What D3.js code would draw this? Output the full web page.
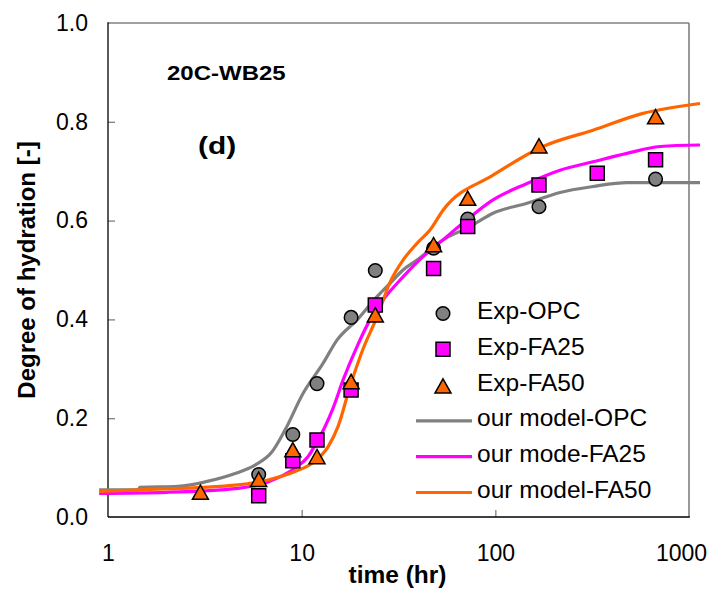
<!DOCTYPE html>
<html><head><meta charset="utf-8">
<script src="https://cdn.jsdelivr.net/npm/d3@7"></script>
<style>
body{margin:0;background:#fff;}
svg text{font-family:Arial,"Liberation Sans",sans-serif;fill:#000;}
</style>
</head><body>
<svg id="chart" width="721" height="616"></svg>
<script>
// ---- data ----
const xTicks = [1, 10, 100, 1000];
const yTicks = [0, 0.2, 0.4, 0.6, 0.8, 1.0];

const expOPC_t  = [6, 9, 12, 18, 24, 48, 72, 168, 672];
const expOPC_v  = [0.086, 0.167, 0.270, 0.404, 0.499, 0.544, 0.603, 0.628, 0.684];
const expFA25_t = [6, 9, 12, 18, 24, 48, 72, 168, 336, 672];
const expFA25_v = [0.043, 0.114, 0.156, 0.257, 0.429, 0.503, 0.588, 0.672, 0.696, 0.723];
const expFA50_t = [3, 6, 9, 12, 18, 24, 48, 72, 168, 672];
const expFA50_v = [0.050, 0.076, 0.136, 0.122, 0.274, 0.409, 0.551, 0.645, 0.751, 0.810];

const modOPC_t  = [0.9, 1.43, 1.46, 2.3, 3.17, 4.53, 5.74, 7.03, 8.2, 10.16, 12.89, 15.22, 19.31, 24.49, 28.58, 33.37, 39.4, 53.69, 73.99, 97.25, 145.7, 215.8, 319.3, 478.4, 1140];
const modOPC_v  = [0.055, 0.055, 0.060, 0.062, 0.071, 0.088, 0.105, 0.132, 0.176, 0.250, 0.311, 0.358, 0.399, 0.446, 0.473, 0.500, 0.520, 0.561, 0.588, 0.615, 0.635, 0.657, 0.669, 0.677, 0.677];
const modFA25_t = [0.9, 2.0, 4.69, 6.70, 9.24, 10.78, 12.14, 13.2, 14.51, 16.35, 19.31, 22.53, 26.3, 33.37, 42.31, 53.69, 68.08, 97.25, 145.7, 215.8, 319.3, 478.4, 708.6, 1140];
const modFA25_v = [0.048, 0.050, 0.058, 0.071, 0.099, 0.122, 0.156, 0.183, 0.220, 0.277, 0.345, 0.399, 0.439, 0.486, 0.527, 0.561, 0.595, 0.642, 0.675, 0.702, 0.719, 0.736, 0.750, 0.753];
const modFA50_t = [0.9, 1.46, 4.69, 6.70, 9.24, 11.31, 13.68, 15.40, 17.77, 20.74, 24.49, 28.58, 33.37, 39.4, 45.98, 53.69, 97.25, 176.3, 319.3, 578.6, 1140];
const modFA50_v = [0.052, 0.055, 0.065, 0.075, 0.092, 0.109, 0.142, 0.183, 0.264, 0.340, 0.405, 0.475, 0.520, 0.554, 0.581, 0.621, 0.692, 0.750, 0.783, 0.817, 0.837];

const legendLabels = ["Exp-OPC", "Exp-FA25", "Exp-FA50", "our model-OPC", "our mode-FA25", "our model-FA50"];

// ---- styles ----
const cGray = "#808080", cMag = "#FF00FF", cOrg = "#FF6600";

const svg = d3.select("#chart");
const x = d3.scaleLog().domain([1, 1000]).range([108, 689]);
const y = d3.scaleLinear().domain([0, 1]).range([517, 23]);

// axes
const gy = svg.append("g").attr("transform", "translate(108,0)")
  .call(d3.axisLeft(y).tickValues(yTicks).tickFormat(d3.format(".1f")).tickSize(-7).tickSizeOuter(0).tickPadding(20));
gy.select(".domain").remove();
gy.selectAll(".tick line").attr("stroke", cGray).attr("stroke-width", 1.3)
  .filter(d => d === 0 || d === 1).remove();
gy.selectAll(".tick text").attr("font-size", 23).attr("font-family", "Arial, 'Liberation Sans', sans-serif").attr("fill", "#000");

const gx = svg.append("g").attr("transform", "translate(0,517)")
  .call(d3.axisBottom(x).tickValues(xTicks).tickFormat(d3.format("d")).tickSize(-7).tickSizeOuter(0).tickPadding(28));
gx.select(".domain").remove();
gx.selectAll(".tick line").attr("stroke", cGray).attr("stroke-width", 1.3)
  .filter(d => d === 1 || d === 1000).remove();
gx.selectAll(".tick text").attr("font-size", 23).attr("font-family", "Arial, 'Liberation Sans', sans-serif").attr("fill", "#000")
  .filter(d => d === 1000).attr("dx", -8);

// frame
const [x0, x1] = x.range(), [yb, yt] = y.range();
svg.append("line").attr("x1", x0).attr("x2", x1).attr("y1", yt).attr("y2", yt).attr("stroke", cGray).attr("stroke-width", 1.6);
svg.append("line").attr("x1", x1).attr("x2", x1).attr("y1", yt).attr("y2", yb).attr("stroke", cGray).attr("stroke-width", 1.6);
svg.append("line").attr("x1", x0).attr("x2", x0).attr("y1", yt - 0.8).attr("y2", yb).attr("stroke", "#000").attr("stroke-width", 1.3);
svg.append("line").attr("x1", x0).attr("x2", x1 + 0.8).attr("y1", yb).attr("y2", yb).attr("stroke", "#000").attr("stroke-width", 1.3);

// model lines
const line = d3.line().x(d => x(d[0])).y(d => y(d[1])).curve(d3.curveMonotoneX);
const models = [
  {t: modOPC_t, v: modOPC_v, c: cGray},
  {t: modFA25_t, v: modFA25_v, c: cMag},
  {t: modFA50_t, v: modFA50_v, c: cOrg}
];
models.forEach(m => {
  svg.append("path").datum(m.t.map((t, i) => [t, m.v[i]]))
    .attr("d", line).attr("fill", "none").attr("stroke", m.c).attr("stroke-width", 3.2);
});

// markers
const triPath = "M0,-7.3L8,7L-8,7Z";
const sqPath = "M-7,-7H7V7H-7Z";
function drawCircle(g, cx, cy) {
  g.append("circle").attr("cx", cx).attr("cy", cy).attr("r", 6.8).attr("fill", cGray).attr("stroke", "#000").attr("stroke-width", 1.5);
}
function drawSquare(g, cx, cy) {
  g.append("path").attr("d", sqPath).attr("transform", `translate(${cx},${cy})`).attr("fill", cMag).attr("stroke", "#000").attr("stroke-width", 1.5);
}
function drawTri(g, cx, cy) {
  g.append("path").attr("d", triPath).attr("transform", `translate(${cx},${cy})`).attr("fill", cOrg).attr("stroke", "#000").attr("stroke-width", 1.5);
}
const gm = svg.append("g");
expOPC_t.forEach((t, i) => drawCircle(gm, x(t), y(expOPC_v[i])));
expFA25_t.forEach((t, i) => drawSquare(gm, x(t), y(expFA25_v[i])));
expFA50_t.forEach((t, i) => drawTri(gm, x(t), y(expFA50_v[i])));

// legend
const lg = svg.append("g");
const lx = 443, ly0 = 313.5, ldy = 35.8;
legendLabels.forEach((lab, i) => {
  const cy = ly0 + i * ldy;
  if (i === 0) drawCircle(lg, lx, cy);
  else if (i === 1) drawSquare(lg, lx, cy);
  else if (i === 2) drawTri(lg, lx, cy + 1);
  else {
    lg.append("line").attr("x1", 416).attr("x2", 472).attr("y1", cy).attr("y2", cy)
      .attr("stroke", [cGray, cMag, cOrg][i - 3]).attr("stroke-width", 3.2);
  }
  lg.append("text").attr("x", 477).attr("y", cy + 5.5).attr("font-size", 24.5).text(lab);
});

// annotations
svg.append("text").attr("transform", "translate(167,80) scale(1.2,1)")
  .attr("font-size", 20).attr("font-weight", "bold").text("20C-WB25");
svg.append("text").attr("transform", "translate(198,154) scale(1.22,1)")
  .attr("font-size", 24.5).attr("font-weight", "bold").text("(d)");

// axis titles
svg.append("text").attr("x", 397.5).attr("y", 583).attr("text-anchor", "middle")
  .attr("font-size", 24.5).attr("font-weight", "bold").text("time (hr)");
svg.append("text").attr("transform", "translate(35,270) rotate(-90)").attr("text-anchor", "middle")
  .attr("font-size", 24).attr("font-weight", "bold").text("Degree of hydration [-]");
</script>
</body></html>
